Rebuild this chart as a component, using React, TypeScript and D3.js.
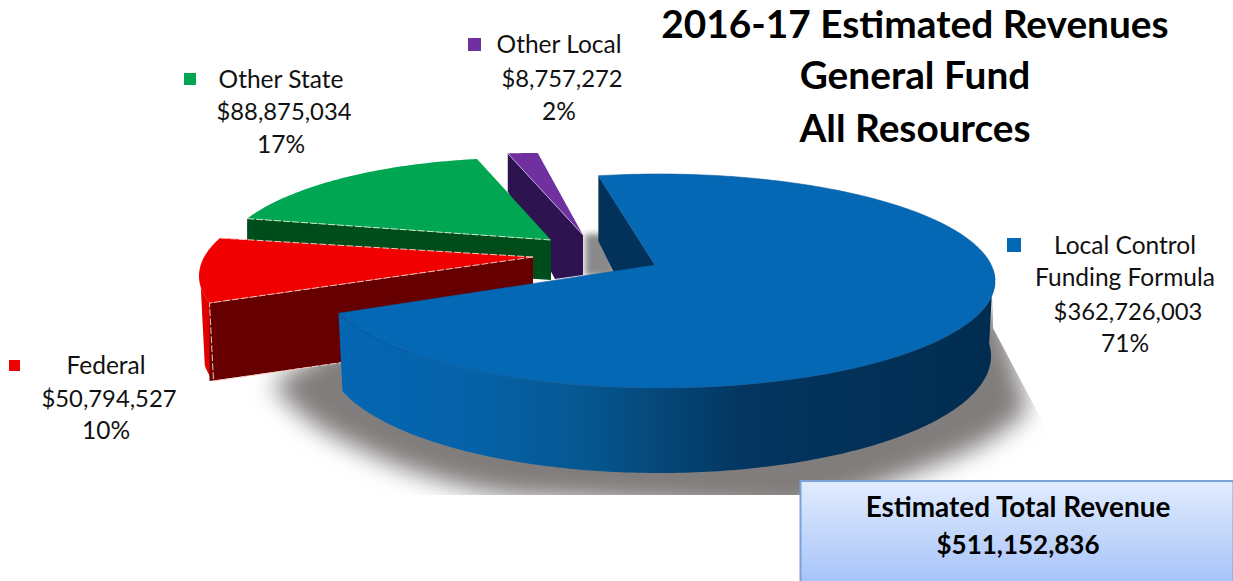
import React from "react";
import * as d3 from "d3";

const categories = ["Local Control Funding Formula", "Federal", "Other State", "Other Local"];
const values = [362726003, 50794527, 88875034, 8757272];
const percentLabels = ["71%", "10%", "17%", "2%"];
const titleLines = ["2016-17 Estimated Revenues", "General Fund", "All Resources"];
const totalLines = ["Estimated Total Revenue", "$511,152,836"];
const money = d3.format("$,");

const W = 1233, H = 581;
const FONT = "Lato, 'Open Sans', sans-serif";
const toRad = Math.PI / 180;

// Projection of each exploded slice: ellipse, apex, extrusion
const geometry = [
  { cx: 659, cy: 281, rx: 336, ry: 107, ax: 655, ay: 265, depth: 75, depthVar: 10, t0: -100.4, stretch: 1.029, top: "#0468b4", side: "url(#blueSide)", cut: "#02315a", apexExtra: 25, notch: null as null | number[] },
  { cx: 529, cy: 276, rx: 330, ry: 108, ax: 533, ay: 257, depth: 78, depthVar: 0, t0: 165.5, stretch: 0.98, top: "#f00000", side: "#660000", cut: "#660000", apexExtra: 0, notch: null },
  { cx: 519, cy: 263, rx: 300, ry: 105, ax: 551, ay: 240, depth: 40, depthVar: 0, t0: 205, stretch: 0.91, top: "#00a651", side: "#004d1c", cut: "#004d1c", apexExtra: 0, notch: null },
  { cx: 536, cy: 258, rx: 300, ry: 105, ax: 583, ay: 235, depth: 38, depthVar: 0, t0: 264.6, stretch: 0.93, top: "#7030a0", side: "#2d1450", cut: "#2d1450", apexExtra: 2, notch: [-28, 44] },
];
const markerColors = ["#0468b4", "#f00000", "#00a651", "#7030a0"];

type G = typeof geometry[number];
const pt = (g: G, t: number): [number, number] => [g.cx + g.rx * Math.cos(t * toRad), g.cy + g.ry * Math.sin(t * toRad)];
const dep = (g: G, t: number) => g.depth + g.depthVar * Math.sin(t * toRad);
const lineGen = d3.line<[number, number]>().x((d) => d[0]).y((d) => d[1]);

const pie = d3.pie<number>().sort(null).value((d) => d);
const arcs = pie(values);

function sample(a: number, b: number) {
  const n = Math.max(8, Math.ceil(Math.abs(b - a)));
  return d3.range(n + 1).map((i) => a + ((b - a) * i) / n);
}

const slices = geometry.map((g, i) => {
  const span = ((arcs[i].endAngle - arcs[i].startAngle) / toRad) * g.stretch;
  const t0 = g.t0, t1 = g.t0 + span;
  const top = lineGen([[g.ax, g.ay], ...sample(t0, t1).map((t) => pt(g, t))])! + "Z";
  const startOuter = pt(g, t0), endOuter = pt(g, t1);
  const corner: [number, number][] = g.notch ? [[g.ax + g.notch[0], g.ay + g.notch[1]]] : [];
  const startCut = lineGen([startOuter, [g.ax, g.ay], [g.ax, g.ay + dep(g, t0) + g.apexExtra], ...corner, [startOuter[0], startOuter[1] + dep(g, t0)]])! + "Z";
  return { g, t0, t1, top, startCut, startOuter, endOuter };
});

function outerWall(g: G, a: number, b: number, inset = 4) {
  const upper = sample(a, b).map((t) => pt(g, t));
  const lower = sample(b, a).map((t) => {
    const p = pt(g, t);
    return [g.cx + (p[0] - g.cx) * (1 - inset / g.rx), p[1] + dep(g, t)] as [number, number];
  });
  return lineGen([...upper, ...lower])! + "Z";
}

const shadowFar = "M 345 340 L 272 384 Q 305 425 352 445 Q 395 467 437 479 Q 480 492 516 496 L 800 512 Q 900 480 973 449 Q 1005 432 1028 410 L 1000 310 Z";
const shadowClip = "M 0 300 L 993 300 L 993 328 L 1048 432 L 1048 495 L 0 495 Z";
const shadowBack = "M 585 234 L 612 234 L 616 276 L 585 276 Z";

function Label({ lines, x, ys, dxs, marker, color, moneyLine }: { lines: string[]; x: number; ys: number[]; dxs: number[]; marker: number[]; color: string; moneyLine: number }) {
  return (
    <g>
      <rect x={marker[0]} y={marker[1]} width={marker[2]} height={marker[2]} fill={color} />
      {lines.map((l, i) => (
        <text key={i} x={x + dxs[i]} y={ys[i]} textAnchor="middle" fontFamily={FONT} fontSize={i === moneyLine ? 23.8 : 24.5} fill="#111">{l}</text>
      ))}
    </g>
  );
}

export default function App() {
  const [local, federal, state, other] = slices;
  const dash = "#f5c6bc";
  return (
    <svg width={W} height={H} viewBox={`0 0 ${W} ${H}`} style={{ position: "absolute", left: 0, top: 0, background: "#fff" }}>
      <defs>
        <linearGradient id="blueSide" gradientUnits="userSpaceOnUse" x1={338} x2={995} y1={0} y2={0}>
          <stop offset="0" stopColor="#0566b3" />
          <stop offset="0.21" stopColor="#0562a8" />
          <stop offset="0.39" stopColor="#05568f" />
          <stop offset="0.51" stopColor="#044474" />
          <stop offset="0.63" stopColor="#03355f" />
          <stop offset="1" stopColor="#012c50" />
        </linearGradient>
        <linearGradient id="boxFill" x1="0" x2="0" y1="0" y2="1">
          <stop offset="0" stopColor="#e2ecfe" />
          <stop offset="1" stopColor="#a6c3f8" />
        </linearGradient>
        <filter id="blur" x="-20%" y="-20%" width="140%" height="140%"><feGaussianBlur stdDeviation="12" /></filter>
        <filter id="blurSmall" x="-50%" y="-50%" width="200%" height="200%"><feGaussianBlur stdDeviation="3" /></filter>
        <clipPath id="shadowClip"><path d={shadowClip} /></clipPath>
      </defs>

      <g clipPath="url(#shadowClip)">
        <path d={shadowFar} fill="#807d7b" filter="url(#blur)" />
      </g>
      <path d={shadowBack} fill="#8a8a8a" filter="url(#blurSmall)" />

      {/* purple */}
      <path d={other.startCut} fill={other.g.side} />
      <path d={other.top} fill={other.g.top} />
      <line x1={other.startOuter[0]} y1={other.startOuter[1]} x2={other.g.ax} y2={other.g.ay} stroke="#b9a3d6" strokeWidth={1} />

      {/* green */}
      <path d={state.startCut} fill={state.g.side} />
      <path d={state.top} fill={state.g.top} />
      <line x1={state.startOuter[0]} y1={state.startOuter[1]} x2={state.g.ax} y2={state.g.ay} stroke="#cfe8c8" strokeWidth={1} strokeDasharray="7 2" />

      {/* red */}
      <path d={outerWall(federal.g, federal.t0, 174, 4)} fill="#e00000" />
      <path d={federal.startCut} fill={federal.g.side} />
      <path d={federal.top} fill={federal.g.top} />
      <path d={lineGen([[federal.g.ax, federal.g.ay], federal.endOuter])!} stroke={dash} strokeWidth={1} strokeDasharray="7 2" fill="none" />
      <path d={lineGen([[federal.g.ax, federal.g.ay], federal.startOuter, [federal.startOuter[0] + 4, federal.startOuter[1] + federal.g.depth], [federal.g.ax, federal.g.ay + federal.g.depth]])!} stroke={dash} strokeWidth={1} strokeDasharray="7 2" fill="none" />

      {/* blue */}
      <path d={local.startCut} fill={local.g.cut} />
      <path d={outerWall(local.g, -6, local.t1)} fill="url(#blueSide)" />
      <path d={local.top} fill={local.g.top} stroke="#0b5c9f" strokeWidth={0.6} />

      {/* labels */}
      <Label lines={["Local Control", "Funding Formula", money(values[0]), percentLabels[0]]} x={1125} ys={[254, 286, 320, 352]} dxs={[0, 0, 3, 0]} marker={[1007, 238, 14]} color={markerColors[0]} moneyLine={2} />
      <Label lines={[categories[1], money(values[1]), percentLabels[1]]} x={106} ys={[374, 407, 439]} dxs={[0, 3, 0]} marker={[9, 360, 11]} color={markerColors[1]} moneyLine={1} />
      <Label lines={[categories[2], money(values[2]), percentLabels[2]]} x={281} ys={[88, 120, 153]} dxs={[0, 3, 0]} marker={[184, 73, 12]} color={markerColors[2]} moneyLine={1} />
      <Label lines={[categories[3], money(values[3]), percentLabels[3]]} x={559} ys={[53, 87, 120]} dxs={[0, 3, 0]} marker={[468, 38, 13]} color={markerColors[3]} moneyLine={1} />

      {/* title */}
      {titleLines.map((l, i) => (
        <text key={i} x={915} y={[38, 89, 142][i]} textAnchor="middle" fontFamily={FONT} fontWeight={700} fontSize={38.8} fill="#000">{l}</text>
      ))}

      {/* total box */}
      <rect x={800.5} y={481} width={W - 800} height={H - 481 + 2} fill="url(#boxFill)" stroke="#7ba2d8" strokeWidth={2} />
      {totalLines.map((l, i) => (
        <text key={i} x={1018} y={[517, 554][i]} textAnchor="middle" fontFamily={FONT} fontWeight={700} fontSize={i === 1 ? 26 : 27.9} fill="#000">{l}</text>
      ))}
    </svg>
  );
}
